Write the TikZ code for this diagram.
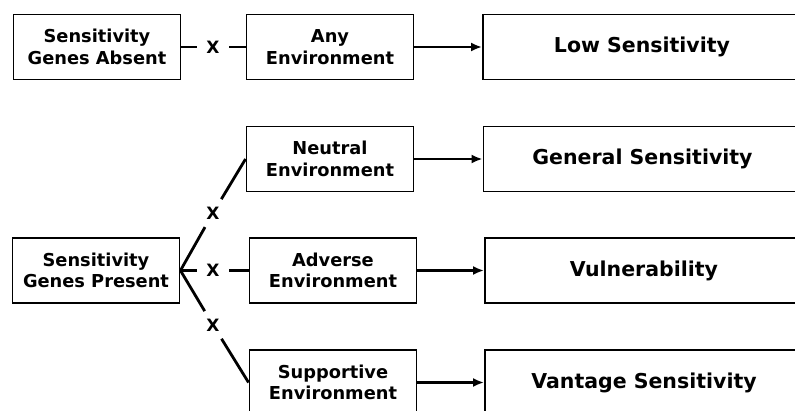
\documentclass[tikz,border=0pt]{standalone}
\usepackage{fontspec}
\setmainfont{DejaVu Sans}
\usetikzlibrary{arrows.meta}
\begin{document}
\begin{tikzpicture}[x=1pt,y=-1pt,
  box/.style={draw,line width=1.9pt,minimum width=167pt,minimum height=65pt,inner sep=0pt,align=center,font=\fontsize{17.8}{21.5}\selectfont\bfseries},
  wide/.style={box,minimum width=318pt,font=\fontsize{20.5}{24}\selectfont\bfseries},
  times/.style={circle,inner sep=0pt,minimum size=32pt,font=\fontsize{17}{20}\selectfont\bfseries},
  link/.style={line width=2.8pt},
  arr/.style={line width=2.4pt,-{Latex[length=11pt,width=9pt]}}]
\useasboundingbox (0,0) rectangle (795,410);
\clip (0,0) rectangle (795,410);
\node[box] (absent) at (97,47) {Sensitivity\\Genes Absent};
\node[box] (anyenv) at (330,47) {Any\\Environment};
\node[wide] (low) at (642,47) {Low Sensitivity};
\node[box] (present) at (96,270.5) {Sensitivity\\Genes Present};
\node[box] (neutral) at (330,159) {Neutral\\Environment};
\node[box] (adverse) at (333,270.5) {Adverse\\Environment};
\node[box] (supportive) at (333,382.5) {Supportive\\Environment};
\node[wide] (general) at (642.5,159) {General Sensitivity};
\node[wide] (vulner) at (644,270.5) {Vulnerability};
\node[wide] (vantage) at (644,382.5) {Vantage Sensitivity};
\node[times] (xa) at (213,47) {X};
\node[times] (xn) at (213,213) {X};
\node[times] (xd) at (213,270.5) {X};
\node[times] (xs) at (213,325) {X};
\draw[link] (absent) -- (xa);
\draw[link] (xa) -- (anyenv);
\draw[link] (present.east) -- (xn);
\draw[link] (xn) -- (neutral.west);
\draw[link] (present.east) -- (xd);
\draw[link] (xd) -- (adverse.west);
\draw[link] (present.east) -- (xs);
\draw[link] (xs) -- (supportive.west);
\draw[arr] (anyenv) -- (low);
\draw[arr] (neutral) -- (general);
\draw[arr] (adverse) -- (vulner);
\draw[arr] (supportive) -- (vantage);
\end{tikzpicture}
\end{document}
